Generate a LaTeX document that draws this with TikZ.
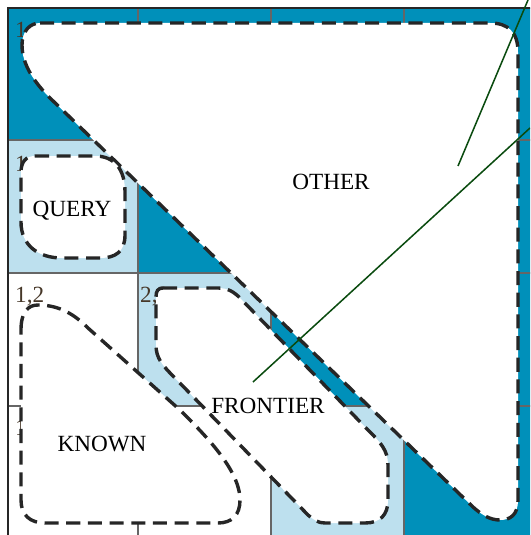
\documentclass[tikz,border=0pt]{standalone}
\usepackage{fontspec}
\setmainfont{Liberation Serif}
\definecolor{deep}{RGB}{0,144,186}
\definecolor{pale}{RGB}{189,224,238}
\definecolor{cellnum}{RGB}{70,55,40}
\definecolor{pointer}{RGB}{10,75,15}
\tikzset{
  blob/.style={fill=white,draw=black!85,line width=2.9pt,dash pattern=on 12pt off 6.5pt},
  gridline/.style={draw=black!60,line width=0.9pt},
  cellno/.style={anchor=north west,inner sep=0pt,text=cellnum},
}
\begin{document}
\begin{tikzpicture}[x=0.03cm,y=-0.03cm,font=\fontsize{19.8}{23}\selectfont]
  \useasboundingbox (0,0) rectangle (530,535);
  \clip (0,0) rectangle (530,535);
  \fill[deep] (8,8) -| (540,540) -| (404,406) -| (271,273) -| (138,140) -| (8,8) -- cycle;
  \fill[pale] (8,140) rectangle (138,273) (138,273) rectangle (271,406) (271,406) rectangle (404,540);
  \draw[gridline] (138,8) -- (138,540) (271,8) -- (271,540) (404,8) -- (404,540)
    (8,140) -- (540,140) (8,273) -- (540,273) (8,406) -- (540,406);
  \draw[black!85,line width=2.5pt] (8,540) -- (8,8) -- (540,8);
  \node[cellno] (c11) at (15,22) {1};
  \node[cellno] (c21) at (15,156) {1};
  \node[cellno] (c31) at (15,287) {1,2};
  \node[cellno] (c32) at (140,287) {2,2};
  \node[cellno] (c41) at (15,420) {1};
  \draw[blob] (40,23) -- (490,23) .. controls (508,23) and (518,32) .. (518,52) -- (518,500)
    .. controls (518,515) and (510,520) .. (500,520) .. controls (490,520) and (482,515) .. (473,507)
    -- (50,98) .. controls (35,83) and (22,65) .. (22,45) .. controls (22,31) and (30,23) .. (40,23) -- cycle;
  \draw[blob] (35,156) -- (95,156) .. controls (115,156) and (125,170) .. (125,192) -- (125,235)
    .. controls (125,252) and (115,258) .. (100,258) -- (62,258) .. controls (38,258) and (21,245) .. (21,222)
    -- (21,172) .. controls (21,162) and (26,156) .. (35,156) -- cycle;
  \draw[blob] (21,330) .. controls (21,312) and (28,305) .. (38,305) .. controls (60,305) and (75,315) .. (88,328)
    -- (180,410) .. controls (205,435) and (240,470) .. (240,500) .. controls (240,515) and (232,523) .. (218,523)
    -- (45,523) .. controls (30,523) and (21,515) .. (21,500) -- cycle;
  \draw[blob] (163,288) -- (218,288) .. controls (228,288) and (234,292) .. (240,298) -- (368,430)
    .. controls (380,442) and (388,450) .. (388,465) -- (388,500) .. controls (388,515) and (380,523) .. (365,523)
    -- (325,523) .. controls (318,523) and (314,520) .. (308,515) -- (175,378)
    .. controls (162,365) and (156,358) .. (156,345) -- (156,297) .. controls (156,291) and (158,288) .. (163,288) -- cycle;
  \node (other) at (331,182) {OTHER};
  \node (query) at (72,211) {QUERY};
  \node (front) at (268,406) {FRONTIER};
  \node (known) at (102,444) {KNOWN};
  \coordinate (tipA) at (458,166); \coordinate (endA) at (528,0);
  \coordinate (tipB) at (253,382); \coordinate (endB) at (530,128);
  \draw[pointer,line width=1.3pt] (tipA) -- (endA) (tipB) -- (endB);
\end{tikzpicture}
\end{document}
